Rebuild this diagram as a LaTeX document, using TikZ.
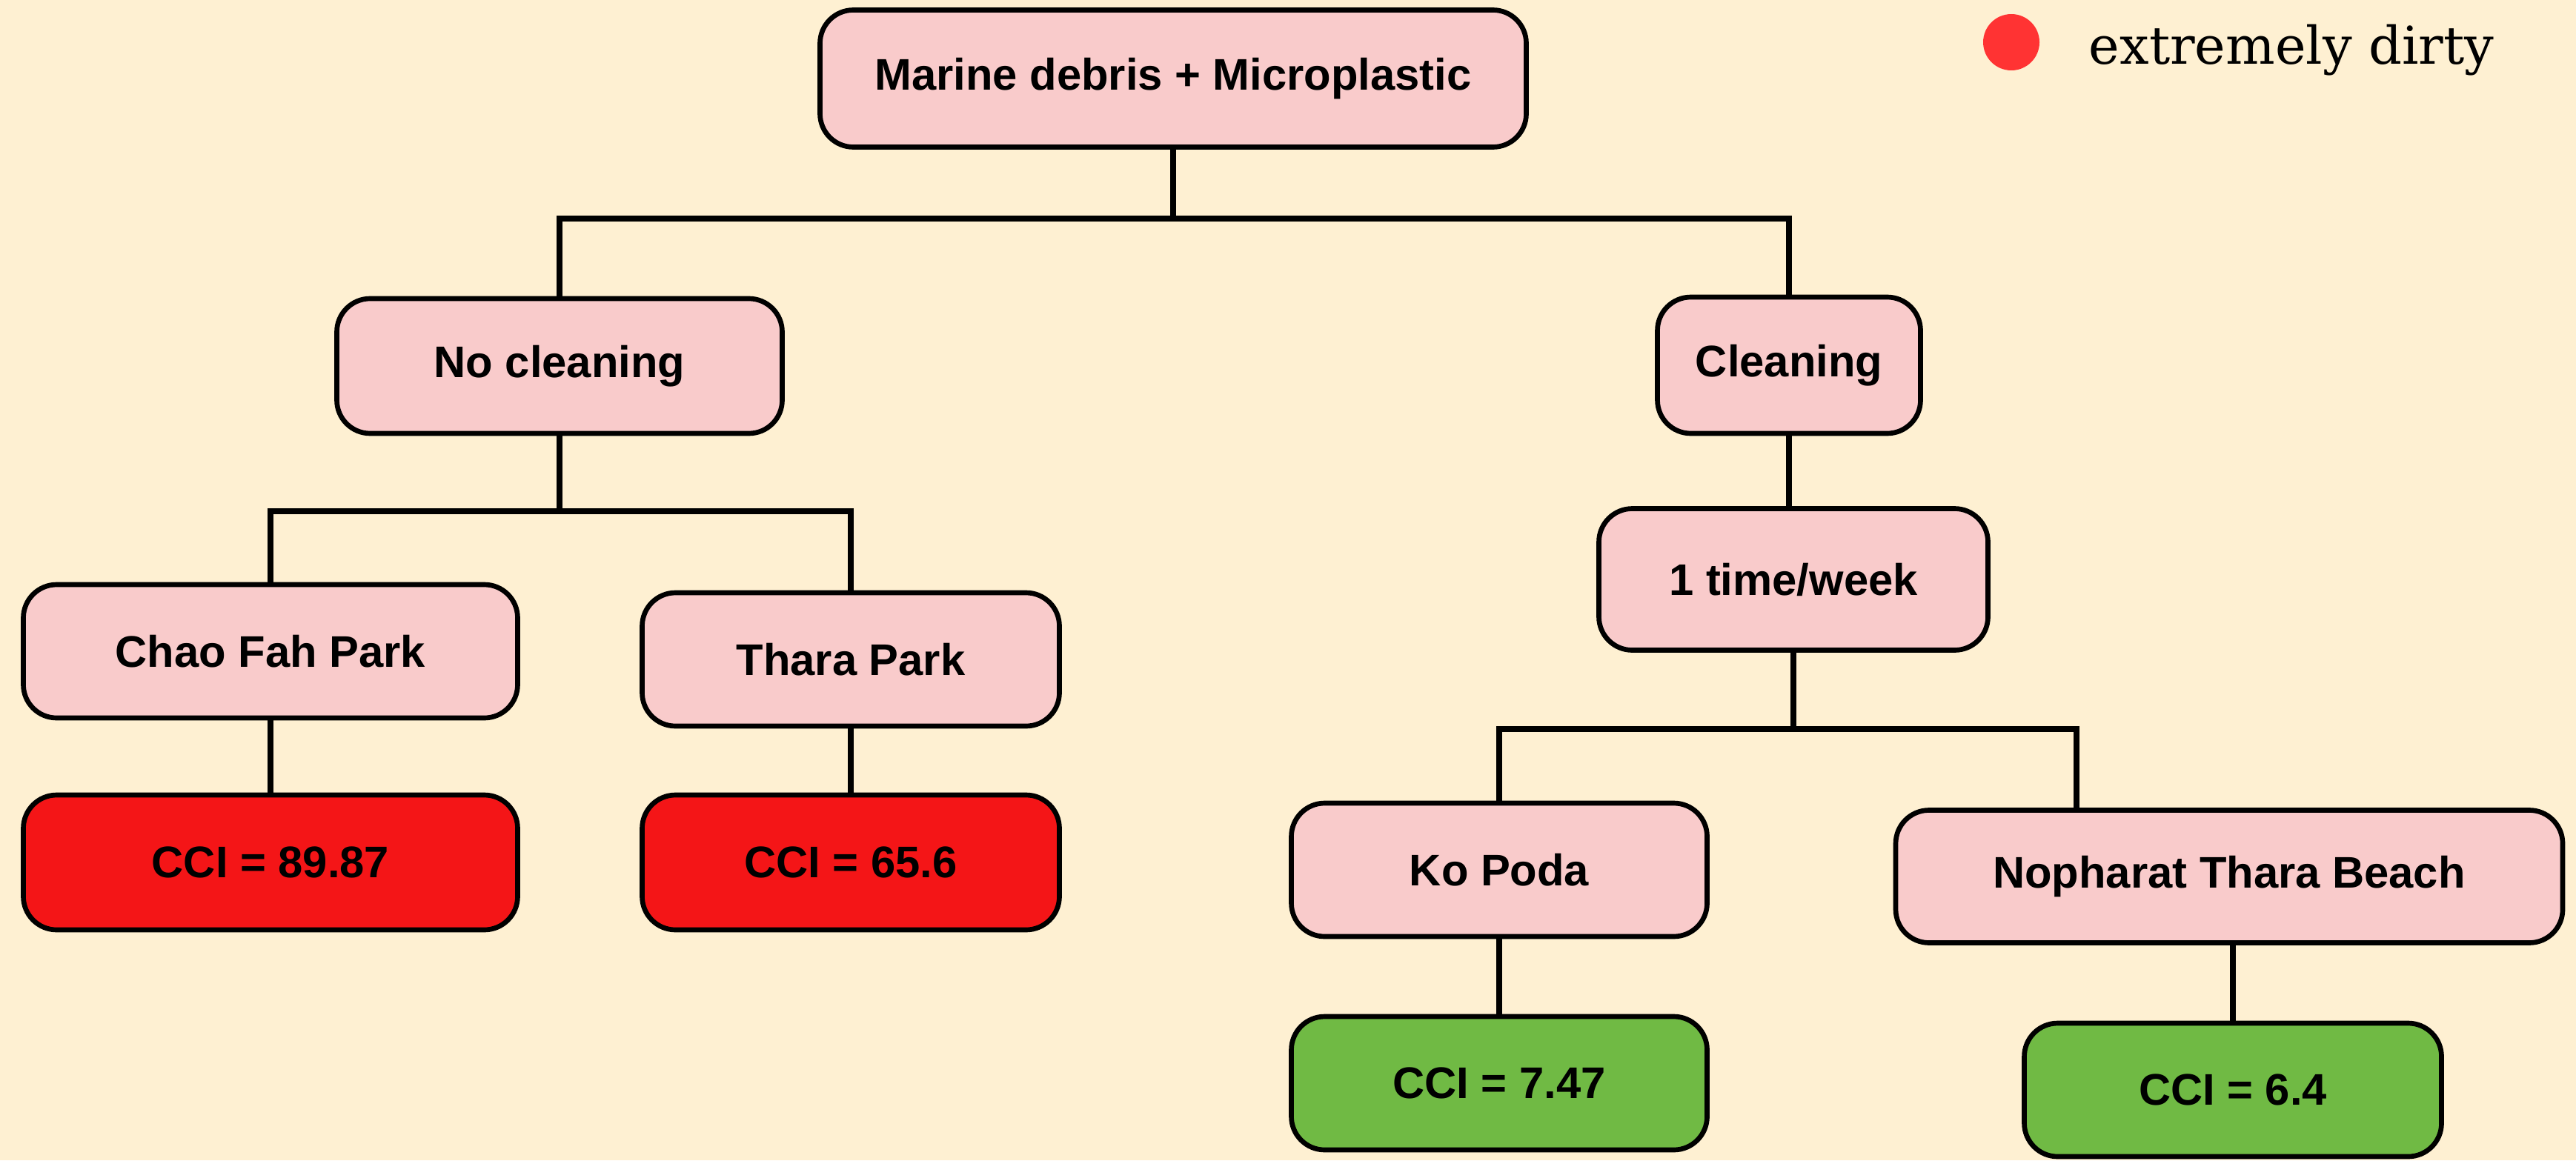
\documentclass[tikz,border=0pt]{standalone}
\usepackage{fontspec}
\setmainfont{Liberation Sans}
\newfontfamily\legendfont{DejaVu Serif}
\usepackage{tikz}
\usetikzlibrary{calc}

\definecolor{cream}{HTML}{FEF0D2}
\definecolor{boxpink}{HTML}{F9CBCB}
\definecolor{dirtyred}{HTML}{F41517}
\definecolor{cleangreen}{HTML}{70BA44}
\definecolor{dotred}{HTML}{FF3333}

\begin{document}
\begin{tikzpicture}
		[box/.style={draw=black,line width=1.9pt,rounded corners=0.45cm,fill=boxpink,inner sep=0pt,minimum height=1.82cm,font=\fontsize{17}{20}\selectfont\bfseries},
		dirty/.style={box,fill=dirtyred},
		clean/.style={box,fill=cleangreen},
		link/.style={black,line width=2.2pt}
		]

		% background and page size
		\fill[cream] (0,0) rectangle (34.76,15.66);
		\useasboundingbox (0,0) rectangle (34.76,15.66);

		% bus levels
		\coordinate (bus1) at (0,12.71);
		\coordinate (bus2) at (0,8.76);
		\coordinate (bus3) at (0,5.82);

		% top level
		\node[box,minimum width=9.53cm,minimum height=1.85cm] (root) at (15.83,14.60) {Marine debris + Microplastic};

		% no cleaning branch
		\node[box,minimum width=6.01cm] (nocl) at (7.55,10.72) {No cleaning};
		\node[box,minimum width=6.67cm,minimum height=1.80cm] (chao) at (3.65,6.87) {Chao Fah Park};
		\node[box,minimum width=5.63cm,minimum height=1.80cm] (thara) at (11.48,6.76) {Thara Park};
		\node[dirty,minimum width=6.67cm] (cciA) at (3.65,4.02) {CCI = 89.87};
		\node[dirty,minimum width=5.63cm] (cciB) at (11.48,4.02) {CCI = 65.6};

		% cleaning branch
		\node[box,minimum width=3.55cm,minimum height=1.84cm] (cl) at (24.14,10.73) {Cleaning};
		\node[box,minimum width=5.25cm,minimum height=1.91cm] (week) at (24.20,7.84) {1 time/week};
		\node[box,minimum width=5.61cm,minimum height=1.80cm] (kopoda) at (20.23,3.92) {Ko Poda};
		\node[box,minimum width=9.00cm,minimum height=1.79cm] (nophar) at (30.08,3.83) {Nopharat Thara Beach};
		\node[clean,minimum width=5.61cm,minimum height=1.80cm] (cciC) at (20.23,1.04) {CCI = 7.47};
		\node[clean,minimum width=5.63cm,minimum height=1.80cm] (cciD) at (30.13,0.95) {CCI = 6.4};
		\coordinate (npTop) at ($(nophar.north)+(-2.06,0)$);

		% connectors
		\draw[link] (root.south) -- (root.south |- bus1);
		\draw[link] (nocl.north) |- (cl.north |- bus1) -- (cl.north);

		\draw[link] (nocl.south) -- (nocl.south |- bus2);
		\draw[link] (chao.north) |- (thara.north |- bus2) -- (thara.north);
		\draw[link] (chao.south) -- (cciA.north);
		\draw[link] (thara.south) -- (cciB.north);

		\draw[link] (cl.south) -- (cl.south |- week.north);
		\draw[link] (week.south) -- (week.south |- bus3);
		\draw[link] (kopoda.north) |- (npTop |- bus3) -- (npTop);
		\draw[link] (kopoda.south) -- (cciC.north);
		\draw[link] (cciD.north |- nophar.south) -- (cciD.north);

		% legend
		\fill[dotred] (27.14,15.09) circle (0.38);
		\node[anchor=base west,inner sep=0pt,font=\legendfont\fontsize{20}{24}\selectfont] (legend) at (28.18,14.79) {extremely dirty};
\end{tikzpicture}
\end{document}
